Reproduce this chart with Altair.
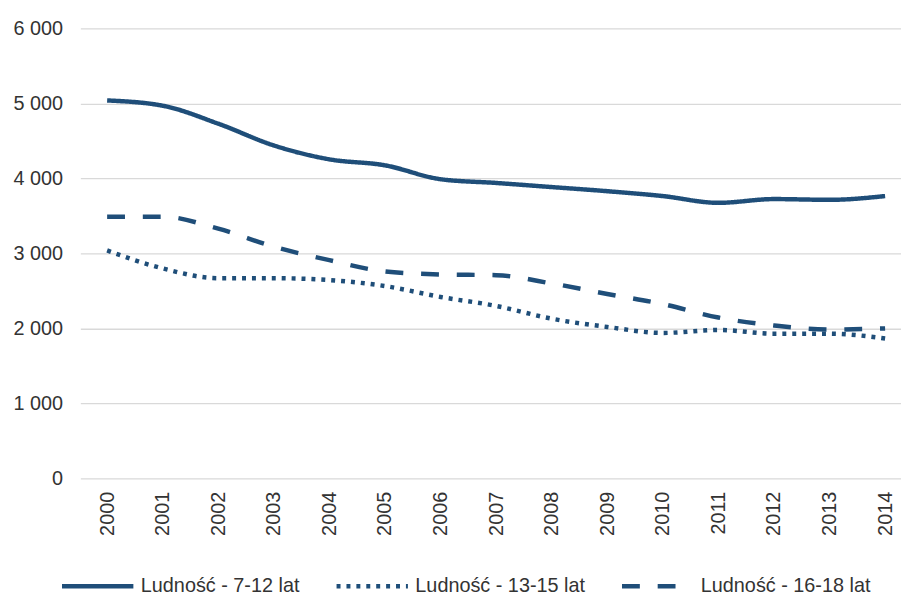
import altair as alt
import pandas as pd

years = list(range(2000, 2015))
series_names = ["Ludność - 7-12 lat", "Ludność - 13-15 lat", "Ludność - 16-18 lat"]
v_7_12 = [5040, 4970, 4730, 4440, 4255, 4175, 3990, 3940, 3885, 3830, 3765, 3675, 3725, 3715, 3765]
v_13_15 = [3040, 2800, 2670, 2670, 2645, 2565, 2420, 2300, 2130, 2020, 1940, 1980, 1930, 1930, 1865]
v_16_18 = [3490, 3490, 3330, 3090, 2910, 2760, 2720, 2710, 2600, 2460, 2325, 2145, 2040, 1985, 2000]
y_ticks = [0, 1000, 2000, 3000, 4000, 5000, 6000]

rows = []
for name, vals in zip(series_names, [v_7_12, v_13_15, v_16_18]):
    for y, v in zip(years, vals):
        rows.append({"Rok": y, "Wartość": v, "Seria": name})
df = pd.DataFrame(rows)

COLOR = "#1F4E79"
FONT = "Liberation Sans"
TXT = "#333333"

chart = (
    alt.Chart(df)
    .mark_line(color=COLOR, strokeWidth=4.5, interpolate="monotone")
    .encode(
        x=alt.X(
            "Rok:Q",
            scale=alt.Scale(domain=[1999.518, 2014.286], nice=False, zero=False),
            axis=alt.Axis(
                values=years,
                format="d",
                labelAngle=-90,
                labelAlign="right",
                labelBaseline="middle",
                labelPadding=13,
                grid=False,
                ticks=False,
                domain=False,
                title=None,
                labelFontSize=20,
                labelFont=FONT,
                labelColor=TXT,
                labelOverlap=False,
            ),
        ),
        y=alt.Y(
            "Wartość:Q",
            scale=alt.Scale(domain=[0, 6000], nice=False),
            axis=alt.Axis(
                values=y_ticks,
                labelExpr="replace(format(datum.value, ',d'), ',', ' ')",
                ticks=False,
                domain=False,
                title=None,
                labelPadding=18,
                labelFontSize=20,
                labelFont=FONT,
                labelColor=TXT,
                gridColor="#D9D9D9",
                gridWidth=1.3,
            ),
        ),
        strokeDash=alt.StrokeDash(
            "Seria:N",
            sort=series_names,
            scale=alt.Scale(domain=series_names, range=[[1, 0], [4, 6], [18, 18]]),
            legend=alt.Legend(
                title=None,
                orient="none",
                direction="horizontal",
                legendX=-21,
                legendY=524,
                symbolType="stroke",
                symbolSize=5184,
                symbolStrokeWidth=4.5,
                symbolStrokeColor=COLOR,
                labelFontSize=20,
                labelFont=FONT,
                labelColor=TXT,
                labelOffset=5,
                columnPadding=27,
                labelLimit=400,
            ),
        ),
    )
    .properties(
        width=828,
        height=454,
        autosize=alt.AutoSizeParams(type="none"),
        padding={"left": 73, "top": 18, "right": 0, "bottom": 118},
    )
    .configure_view(stroke=None)
)

chart.save("out.html", embed_options={"renderer": "svg", "actions": False})
